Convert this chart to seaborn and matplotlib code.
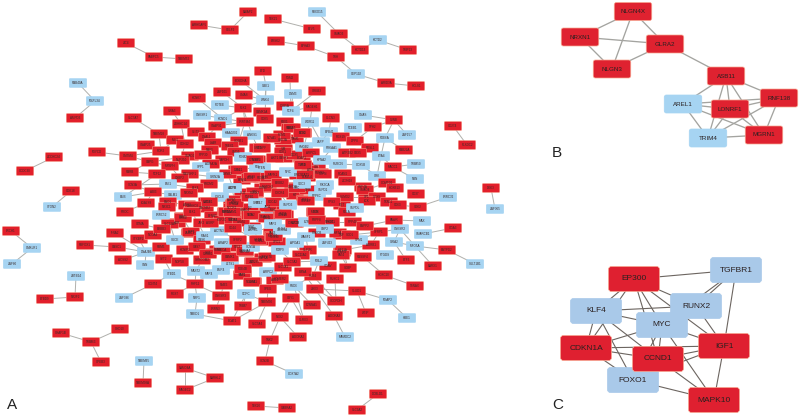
import matplotlib
matplotlib.use('Agg')
import matplotlib.pyplot as plt
import pandas as pd
import seaborn as sns
from matplotlib.collections import LineCollection
from matplotlib.patches import BoxStyle

# panel A: node names, position (pixels)
a_names = [
    # dense middle, drawn first so the others lie on top
    'ANK2', 'BAG3', 'CACNB2', 'DAB1', 'EFNA5', 'FBN1', 'GATA2', 'HDAC4',
    'IRS1', 'JAK2', 'KDR', 'LAMC1', 'MEF2C', 'NEDD4', 'OPA1', 'PAX6',
    'QKI', 'RBM3', 'SIX1', 'TLE3', 'USP9X', 'VCL', 'WNT5A', 'XPO1',
    'YAP1', 'ZEB1', 'ABL1', 'BCAR1', 'CBL', 'DVL2', 'EPAS1', 'FOXA2',
    'GLI3', 'HSPA5', 'ID2', 'JAG1', 'KIT', 'LIFR', 'MET', 'NCOR1',
    'PBX1', 'RARA', 'SOX2', 'TIAM1', 'UBE3A', 'VIM', 'WT1', 'ATM',
    'BIRC5', 'CASP3', 'DDX5', 'ELAVL4', 'FGFR2', 'GSK3B', 'HNF4A', 'IL1B',
    'KAT2B', 'LEF1', 'MTOR', 'NFKB1', 'PRKCB', 'RELA', 'SP1', 'TNF',
    'BTD', 'BCKDHA', 'GBE1', 'ZNF101', 'CMAS', 'WNK4', 'KCNK7', 'POTEE',
    'BAIAP2', 'ARHGAP5', 'CELF2', 'ZIC4', 'PABPC5', 'TMEM52', 'RAB40A', 'MRPL34',
    'AMPD3', 'ZCCHC24', 'CCDC30', 'CDK18', 'STON2', 'FBXO15', 'SMAD3', 'ETV5',
    'TBX21', 'BRSK2', 'EPHA3', 'TRH', 'CEP192', 'ARID3A', 'HCLS1', 'KCTD13',
    'KCTD2', 'TRIP13', 'CD274', 'PLXDC2', 'DKK3', 'ZNF365', 'LRRC32', 'SDK2',
    'LRCH1', 'CMKLR1', 'ZNF80', 'ZBTB24', 'NR2F2', 'BTBD9', 'CHAF1B', 'TRIM63',
    'CHD10', 'CPEB3', 'TMEM65', 'TMEM38A', 'SAMD4A', 'BARHL2', 'MAGEC2', 'TBX20',
    'GABRA2', 'DCBLD1', 'SLC9A2', 'COX7A2',
    'PLK2', 'CAMK2A', 'VWA3', 'CNKSR1', 'KCND1', 'LRRTM4', 'SLC7A7', 'ZDHHC14',
    'SNAP91', 'CDK5', 'SLIT3', 'KIAA0202', 'ANKS1', 'TMEM28', 'DNAL1', 'MCU',
    'CDH12', 'SNAP25', 'SCGB1', 'LYAR', 'TREX1', 'ROR2', 'NAV3', 'SIRT2',
    'MLYCD', 'CMTM4', 'SMAD2', 'RPP30', 'SMG5', 'NUP210', 'CAPG', 'GAPDH',
    'NLRP3', 'MDM2', 'MYBPH', 'ADRA2A', 'SPP1', 'REL', 'RARB', 'TCF12',
    'RASGRF1', 'OSBP2', 'LMNB2', 'FHL1', 'GRIN2A', 'SCN3A', 'BMI1', 'PRDM2',
    'ELK4', 'EGFR', 'BCL2', 'KLF6', 'ABI3', 'EMB', 'CALM1', 'NRXN2',
    'RUNX3', 'CXCL8', 'RHOB', 'LGALS9', 'ENO1', 'ITGB1', 'ZDHHC8', 'PPM1A',
    'RPL7', 'PROC', 'NR3C1', 'GZMA', 'LRRC52', 'SLC22A3', 'IFNA2', 'RBFOX1',
    'CASC1', 'STXBP2', 'ACSS2', 'DNAJB6', 'SNN', 'NCOA4', 'ERBB3', 'RBM5',
    'SGCE', 'SYT2', 'NOP58', 'CHIC2', 'LRP5', 'CASK', 'KCNIP2', 'GAS7',
    'SHROOM2', 'STBD1', 'GCNT4', 'ZNF396', 'RGS7', 'MAST2', 'PHF12', 'MAP4',
    'BMP4', 'NME5', 'CNKSR3', 'NRF1', 'TMED1', 'LRRN3', 'BCAT1', 'GOPC',
    'TRIM7', 'YBX3', 'LZTS1', 'NDUFA1', 'ZNF281', 'PDE4B', 'CSMD1', 'PRKCA',
    'CAMK1', 'CHRNA4', 'SCN5A', 'ARAP2', 'ACTN3', 'PIAS1', 'MED12', 'ACTC1',
    'SFRP2', 'AGRP', 'RAP1A', 'GRM4', 'ELK1', 'NFIA', 'SMAD7', 'TMEM30',
    'TNK2', 'SCN2B', 'SLC7A4', 'ZMPSTE', 'ARPC2', 'SPEG',
    'CENPF', 'PUM1', 'NOVA1', 'RAD51', 'ETS1', 'CDK1', 'CTNNB1', 'AKT1',
    'PTEN', 'STAT3', 'KRAS', 'MAPK1', 'ACTB', 'NOTCH1', 'ERBB2', 'SRC',
    'PIK3CA', 'UBC', 'CXCR4', 'MMP2', 'TGFB1', 'CDC42', 'SMPD3', 'GRB2',
    'EZH2', 'MYH9', 'CDH1', 'NCAM1', 'TUBB', 'DLG4', 'CD44', 'HIF1A',
    'MYOD1', 'PPARG',
    'TGM2', 'DNM3', 'CREB3', 'CYB5A', 'MAGEH1', 'TCF4', 'WDR11', 'CLCN3',
    'GNAS', 'JUNB', 'TCEB1', 'TPH2', 'ZNF157', 'PDE6A', 'EPB41',
    'RGS19', 'DPP8', 'FOSL1', 'RAB22A', 'LAPP', 'HMGB2', 'PRKAA1', 'ATP2B2',
    'CBX5', 'ARPC5', 'EYA4', 'KPNA2', 'RUBCN', 'COX5B', 'MACC1', 'TRIM50',
    'CRK', 'NBN', 'COMTD1', 'HOXB13', 'CD37', 'NFIC', 'TIMM9', 'MTPN',
    'RCAN1', 'ZC3H18', 'SMAD4', 'SMPD1', 'SDC3', 'PPP6C', 'SUMO2', 'TCIRBP',
    'RPS3', 'SOX9', 'LCK', 'TXNL1', 'SMPDL', 'CD63',
    'ITGA3', 'SMARCB1', 'MAX', 'MYO5A', 'ENTPD2', 'SULT1B1', 'BARX1', 'BTF3',
    'GRIA2', 'CNKSR2', 'PAWR', 'SFRP1', 'ADRB1', 'PTGDS', 'GFM1', 'RASSF4',
    'HOXC10', 'TSNAX', 'SOBP', 'ITGAV', 'RUSC1', 'GLUD1', 'MFAP2', 'HBE1',
    'WTIP', 'SCCPDH', 'ZHX3', 'FGD6', 'CTNNA1', 'CBY1', 'GLRX3', 'ADORA3',
    'MAMDC2', 'NKX2', 'ADORA2', 'RUB4', 'LMNA', 'HOMER2', 'MBL2', 'SLC7A1',
    'GLP2R', 'SLC11A2', 'SLC7A2', 'KIF21A', 'FAT4', 'ZNF423', 'WASF1', 'MMP9',
    'APOA1', 'PEG10', 'CD300A', 'CYP2C9', 'BSN', 'RHOT1', 'SMC3', 'EZR',
    'RPP40', 'KIF3A', 'SOD1', 'USP2', 'PRPF8', 'MAP2', 'ENPP2',
]
a_x = [
    187, 207, 205, 183, 213, 226, 233, 245,
    273, 202, 177, 190, 222, 233, 252, 272,
    260, 218, 208, 237, 245, 253, 263, 277,
    243, 253, 275, 302, 317, 237, 242, 262,
    243, 232, 250, 268, 295, 308, 342, 232,
    285, 290, 303, 295, 283, 284, 303, 310,
    298, 284, 295, 307, 320, 293, 363, 285,
    295, 305, 315, 330, 317, 347, 367, 342,
    263, 241, 266, 222, 244, 265, 197, 220,
    248, 199, 230, 126, 154, 184, 78, 95,
    75, 54, 25, 71, 52, 317, 339, 312,
    273, 276, 306, 336, 356, 386, 416, 360,
    378, 408, 453, 467, 491, 495, 448, 418,
    11, 32, 12, 76, 75, 45, 61, 91,
    120, 101, 144, 143, 185, 215, 185, 256,
    287, 378, 357, 294,
    243, 262, 172, 202, 223, 245, 133, 181,
    217, 265, 196, 231, 252, 159, 207, 175,
    185, 146, 239, 213, 230, 161, 210, 258,
    97, 128, 190, 203, 236, 181, 150, 224,
    257, 243, 170, 211, 201, 258, 130, 157,
    190, 180, 228, 239, 215, 133, 168, 209,
    195, 233, 250, 265, 153, 123, 173, 189,
    255, 220, 263, 146, 168, 209, 193, 234,
    259, 125, 167, 140, 161, 170, 115, 85,
    117, 139, 123, 146, 145, 153, 162, 161,
    175, 164, 180, 183, 191, 202, 185, 197,
    202, 172, 153, 124, 175, 196, 195, 209,
    221, 224, 221, 197, 195, 216, 232, 246,
    243, 242, 230, 252, 254, 243, 208, 222,
    230, 245, 251, 223, 219, 205, 260, 253,
    238, 210, 227, 241, 192, 250, 265, 267,
    270, 265, 257, 267, 268, 268,
    262, 282, 272, 292, 302, 283, 255, 275,
    262, 305, 252, 273, 232, 268, 280, 297,
    325, 255, 280, 235, 250, 273, 288, 257,
    252, 267, 282, 232, 253, 282, 233, 258,
    273, 342,
    290, 293, 317, 285, 312, 291, 310, 331,
    363, 394, 353, 373, 407, 385, 329,
    341, 355, 370, 404, 321, 304, 332, 347,
    358, 311, 381, 322, 338, 361, 393, 416,
    377, 415, 387, 395, 416, 288, 303, 323,
    343, 347, 365, 323, 302, 317, 345, 306,
    332, 377, 367, 389, 355, 398,
    453, 423, 422, 415, 447, 475, 433, 406,
    394, 400, 394, 379, 371, 385, 359, 363,
    384, 415, 348, 328, 335, 357, 388, 407,
    366, 336, 315, 294, 312, 291, 304, 334,
    345, 280, 298, 313, 303, 280, 319, 283,
    308, 301, 292, 343, 341, 327, 306, 280,
    295, 274, 282, 294, 316, 331, 283, 307,
    353, 338, 350, 325, 317, 273, 365,
]
a_y = [
    205, 202, 208, 217, 216, 212, 220, 210,
    210, 223, 223, 233, 220, 220, 227, 233,
    240, 250, 253, 247, 252, 262, 258, 242,
    275, 282, 280, 158, 167, 170, 180, 178,
    193, 200, 208, 207, 195, 190, 205, 208,
    122, 128, 133, 139, 140, 149, 165, 170,
    175, 158, 155, 177, 173, 187, 187, 215,
    223, 200, 212, 222, 233, 212, 197, 235,
    71, 81, 86, 92, 95, 100, 98, 105,
    12, 25, 30, 43, 57, 59, 83, 101,
    118, 157, 171, 191, 207, 12, 34, 29,
    19, 41, 46, 57, 74, 83, 86, 50,
    40, 50, 126, 145, 188, 209, 197, 207,
    231, 248, 264, 276, 297, 299, 333, 342,
    329, 362, 361, 383, 368, 378, 390, 406,
    408, 394, 410, 374,
    108, 112, 111, 115, 119, 122, 118, 124,
    126, 119, 132, 133, 135, 134, 137, 140,
    144, 145, 141, 143, 146, 151, 150, 148,
    152, 156, 156, 155, 152, 160, 162, 160,
    160, 157, 166, 164, 167, 167, 172, 174,
    174, 178, 174, 170, 177, 185, 184, 184,
    188, 188, 178, 177, 192, 197, 195, 193,
    193, 197, 188, 203, 202, 202, 206, 204,
    203, 212, 207, 224, 215, 224, 233, 245,
    247, 239, 260, 252, 265, 235, 229, 247,
    240, 259, 262, 218, 232, 240, 250, 247,
    260, 274, 284, 298, 294, 271, 284, 274,
    270, 285, 296, 298, 314, 309, 321, 294,
    306, 275, 264, 282, 262, 269, 254, 250,
    257, 251, 247, 243, 231, 236, 241, 230,
    240, 223, 212, 222, 212, 215, 217, 302,
    340, 361, 324, 257, 272, 289,
    148, 135, 138, 128, 133, 152, 160, 158,
    168, 175, 177, 175, 188, 187, 183, 188,
    185, 192, 193, 203, 197, 202, 205, 203,
    215, 218, 215, 212, 229, 229, 228, 240,
    236, 252,
    78, 94, 91, 106, 107, 111, 122, 118,
    115, 120, 128, 127, 135, 138, 132,
    137, 141, 148, 150, 142, 147, 148, 153,
    153, 153, 156, 160, 164, 165, 167, 164,
    176, 179, 183, 188, 194, 172, 165, 174,
    174, 181, 190, 190, 184, 196, 197, 201,
    202, 197, 201, 202, 208, 205,
    228, 234, 221, 246, 250, 264, 266, 260,
    242, 229, 220, 232, 245, 255, 240, 257,
    275, 286, 268, 266, 279, 291, 300, 318,
    313, 301, 289, 286, 305, 298, 320, 316,
    337, 317, 337, 276, 272, 279, 261, 267,
    250, 255, 262, 250, 255, 243, 237, 250,
    243, 237, 230, 223, 212, 222, 214, 222,
    222, 233, 235, 229, 220, 224, 226,
]
# the nodes of panel A that are blue, all the others are red
a_blue = [
    'RAB40A', 'MRPL34', 'STON2', 'FBXO15', 'CEP192', 'KCTD2', 'ZNF365', 'LRRC32',
    'CMKLR1', 'ZNF80', 'ZBTB24', 'TMEM65', 'COX7A2', 'GBE1', 'WNK4', 'POTEE',
    'CNKSR1', 'KCND1', 'KIAA0202', 'ANKS1', 'MDM2', 'SPP1', 'REL', 'GRIN2A',
    'BMI1', 'EGFR', 'EMB', 'CALM1', 'CXCL8', 'RPL7', 'LRRC52', 'DNAJB6',
    'SNN', 'SGCE', 'STBD1', 'ZNF396', 'MAST2', 'MAP4', 'BMP4', 'NRF1',
    'TMED1', 'GOPC', 'LZTS1', 'SCN5A', 'ARAP2', 'ACTN3', 'PIAS1', 'ACTC1',
    'SMAD7', 'ARPC2', 'PTEN', 'ACTB', 'PIK3CA', 'SMPD3', 'GRB2', 'TUBB',
    'DLG4', 'DNM3', 'TCF4', 'WDR11', 'GNAS', 'TCEB1', 'ZNF157', 'PDE6A',
    'EPB41', 'LAPP', 'HMGB2', 'PRKAA1', 'EYA4', 'KPNA2', 'RUBCN', 'COX5B',
    'TRIM50', 'CRK', 'NBN', 'NFIC', 'SMPD1', 'SDC3', 'PPP6C', 'SMPDL',
    'SMARCB1', 'MAX', 'MYO5A', 'SULT1B1', 'GRIA2', 'CNKSR2', 'PTGDS', 'GFM1',
    'MFAP2', 'HBE1', 'FGD6', 'MAMDC2', 'MBL2', 'ZNF423', 'WASF1', 'MMP9',
    'APOA1', 'CD300A', 'EZR', 'USP2', 'MAP2',
]
a_edges = [
    ('BAIAP2', 'CELF2'), ('ARHGAP5', 'CELF2'), ('ZIC4', 'PABPC5'), ('PABPC5', 'TMEM52'),
    ('RAB40A', 'MRPL34'), ('MRPL34', 'AMPD3'), ('ZCCHC24', 'CCDC30'), ('CDK18', 'STON2'),
    ('FBXO15', 'SMAD3'), ('TBX21', 'ETV5'), ('SMAD3', 'KCTD13'), ('KCTD2', 'TRIP13'),
    ('KCTD2', 'KCTD13'), ('BRSK2', 'EPHA3'), ('EPHA3', 'TRH'), ('TRH', 'CEP192'),
    ('CEP192', 'ARID3A'), ('ARID3A', 'HCLS1'), ('CD274', 'PLXDC2'), ('DKK3', 'ZNF365'),
    ('LRCH1', 'CMKLR1'), ('CMKLR1', 'ZNF80'), ('ZBTB24', 'NR2F2'), ('NR2F2', 'BTBD9'),
    ('CHAF1B', 'TRIM63'), ('TRIM63', 'CHD10'), ('TRIM63', 'CPEB3'), ('TMEM65', 'TMEM38A'),
    ('SAMD4A', 'BARHL2'), ('BARHL2', 'MAGEC2'), ('SAMD4A', 'MAGEC2'), ('TBX20', 'GABRA2'),
    ('DCBLD1', 'SLC9A2'), ('LRRC32', 'SDK2'), ('SDK2', 'CD63'),
    ('BTD', 'GBE1'), ('BCKDHA', 'WNK4'), ('GBE1', 'WNK4'), ('ZNF101', 'PLK2'),
    ('CMAS', 'WNK4'), ('WNK4', 'PLK2'), ('KCNK7', 'KCND1'), ('POTEE', 'PLK2'),
    ('KCND1', 'PLK2'), ('PLK2', 'LRRTM4'), ('PLK2', 'ANKS1'), ('VWA3', 'ZDHHC14'),
    ('ZDHHC14', 'SLIT3'), ('SLC7A7', 'TMEM28'), ('TMEM28', 'MCU'), ('ZDHHC14', 'CDH12'),
    ('SNAP91', 'LRRTM4'), ('SNAP91', 'DNAL1'), ('SLIT3', 'DNAL1'), ('SLIT3', 'TREX1'),
    ('TMEM28', 'ROR2'), ('MLYCD', 'CMTM4'), ('CMTM4', 'CAPG'), ('CMTM4', 'ROR2'),
    ('CAPG', 'SMAD2'), ('RARB', 'TCF12'), ('SCN3A', 'BMI1'), ('TCF12', 'NUP210'),
    ('ABI3', 'CALM1'), ('EMB', 'ABI3'), ('EMB', 'TCF12'), ('LGALS9', 'ABI3'),
    ('PROC', 'LGALS9'), ('GZMA', 'ERBB3'), ('LRRC52', 'ERBB3'), ('SNAP25', 'ROR2'),
    ('MCU', 'ROR2'), ('CDH12', 'NUP210'), ('LYAR', 'NAV3'), ('CAPG', 'MYBPH'),
    ('RARB', 'CAPG'), ('MYBPH', 'OSBP2'), ('BMI1', 'ELK4'), ('SCN3A', 'ABI3'),
    ('CNKSR1', 'LRRTM4'), ('GBE1', 'CDK5'), ('CAMK2A', 'CDK5'), ('LRRTM4', 'SCGB1'),
    ('KIAA0202', 'SCGB1'), ('ANKS1', 'SIRT2'), ('SIRT2', 'CENPF'), ('MDM2', 'NLRP3'),
    ('SMG5', 'GAPDH'), ('LMNB2', 'EGFR'), ('EGFR', 'KRAS'), ('REL', 'FHL1'),
    ('KLF6', 'BCL2'), ('IFNA2', 'DNAJB6'), ('RBFOX1', 'CASC1'), ('CASC1', 'DNAJB6'),
    ('STXBP2', 'DNAJB6'), ('ACSS2', 'DNAJB6'), ('SNN', 'DNAJB6'), ('DNAJB6', 'RBM5'),
    ('DNAJB6', 'SGCE'), ('STBD1', 'SYT2'), ('STBD1', 'GCNT4'), ('STBD1', 'PHF12'),
    ('GCNT4', 'ZNF396'), ('RGS7', 'PHF12'), ('MAST2', 'PHF12'), ('MAP4', 'PHF12'),
    ('PHF12', 'NRF1'), ('PHF12', 'CNKSR3'), ('NRF1', 'TMED1'), ('TMED1', 'BCAT1'),
    ('BCAT1', 'GOPC'), ('LRRN3', 'NME5'), ('NME5', 'YBX3'), ('GOPC', 'TRIM7'),
    ('GOPC', 'TMEM30'), ('BCAT1', 'TMEM30'), ('SLC7A4', 'TMEM30'), ('TNK2', 'SCN2B'),
    ('TNK2', 'NKX2'), ('SCN2B', 'COX7A2'), ('NKX2', 'ADORA2'), ('NKX2', 'CBY1'),
    ('GLRX3', 'CBY1'), ('GLRX3', 'FGD6'), ('MAP4', 'BMP4'), ('SHROOM2', 'MAST2'),
    ('NOP58', 'MAST2'), ('LZTS1', 'YBX3'), ('YBX3', 'NDUFA1'), ('NDUFA1', 'SPEG'),
    ('SPEG', 'TMEM30'), ('ARPC2', 'SPEG'), ('PDE4B', 'ZNF281'), ('CSMD1', 'SHROOM2'),
    ('HOXC10', 'TSNAX'), ('HOXC10', 'RASSF4'), ('GLUD1', 'ZHX3'), ('GLUD1', 'MFAP2'),
    ('GLUD1', 'WTIP'), ('MFAP2', 'HBE1'), ('ZHX3', 'SCCPDH'), ('RUSC1', 'SCCPDH'),
    ('ZHX3', 'LMNA'), ('ZHX3', 'ADORA3'), ('ADORA3', 'MAMDC2'), ('FGD6', 'CTNNA1'),
    ('FGD6', 'HOMER2'), ('FGD6', 'RUB4'), ('SCCPDH', 'RUB4'), ('ITGA3', 'SMARCB1'),
    ('MYO5A', 'ENTPD2'), ('ENTPD2', 'SULT1B1'), ('MYO5A', 'BARX1'), ('MYO5A', 'GRIA2'),
    ('MYO5A', 'CNKSR2'), ('GRIA2', 'BTF3'), ('GRIA2', 'CNKSR2'), ('MAX', 'PAWR'),
    ('CNKSR2', 'SFRP1'), ('SFRP1', 'GFM1'), ('ADRB1', 'SFRP1'), ('ADRB1', 'KIF21A'),
    ('GFM1', 'KIF3A'), ('SOBP', 'KIF21A'), ('SOBP', 'FAT4'), ('ITGAV', 'MBL2'),
    ('JUNB', 'GNAS'), ('JUNB', 'PDE6A'), ('JUNB', 'ZNF157'), ('JUNB', 'TPH2'),
    ('TPH2', 'DPP8'), ('PDE6A', 'FOSL1'), ('PDE6A', 'RAB22A'), ('PDE6A', 'EYA4'),
    ('MACC1', 'TRIM50'), ('MACC1', 'CRK'), ('MACC1', 'NBN'), ('CRK', 'COMTD1'),
    ('EYA4', 'MACC1'), ('EYA4', 'FOSL1'), ('EYA4', 'CRK'), ('TCEB1', 'RGS19'),
    ('TGM2', 'TCF4'), ('DNM3', 'TCF4'), ('CREB3', 'TCF4'), ('CYB5A', 'TCF4'),
    ('MAGEH1', 'WDR11'), ('MAGEH1', 'TCF4'), ('WDR11', 'HMGB2'), ('WDR11', 'LAPP'),
    ('CLCN3', 'EPB41'), ('EPB41', 'LAPP'), ('LAPP', 'PRKAA1'), ('PRKAA1', 'KPNA2'),
    ('ATP2B2', 'CBX5'), ('COX5B', 'RUBCN'), ('COX5B', 'CRK'), ('RCAN1', 'ZC3H18'),
    ('ZC3H18', 'SMAD4'), ('SMAD4', 'COMTD1'), ('SUMO2', 'SOX9'), ('LCK', 'SOX9'),
    ('TXNL1', 'SOX9'), ('SMPDL', 'LCK'), ('RPS3', 'SMPDL'), ('PPP6C', 'RPS3'),
    ('SMPD1', 'SDC3'), ('SMPD1', 'PPP6C'), ('KPNA2', 'MTPN'), ('NFIC', 'TIMM9'),
    ('RHOT1', 'RPP40'), ('RPP40', 'ENPP2'), ('ENPP2', 'PAWR'), ('USP2', 'PRPF8'),
    ('KIF3A', 'SOD1'), ('SOD1', 'SFRP1'), ('EZR', 'USP2'), ('EZR', 'BSN'),
    ('SMC3', 'CYP2C9'), ('CYP2C9', 'EZR'), ('WASF1', 'GLP2R'), ('APOA1', 'SLC11A2'),
    ('APOA1', 'WASF1'), ('MMP9', 'SLC7A2'), ('PEG10', 'CD300A'), ('MAP2', 'PEG10'),
    ('MAP2', 'MYOD1'), ('SLC7A1', 'SLC7A2'), ('HOMER2', 'SLC7A1'), ('LMNA', 'RUB4'),
    ('MBL2', 'RUB4'), ('MBL2', 'SLC7A2'), ('SMPD3', 'CXCR4'), ('CDC42', 'GRB2'),
    ('TGFB1', 'UBC'), ('UBC', 'NOTCH1'), ('NOTCH1', 'ERBB2'), ('ERBB2', 'SRC'),
    ('SRC', 'PIK3CA'), ('PIK3CA', 'SMPD1'), ('ACTB', 'KRAS'), ('ACTB', 'MMP2'),
    ('KRAS', 'MAPK1'), ('MAPK1', 'PTEN'), ('PTEN', 'CTNNB1'), ('CTNNB1', 'AKT1'),
    ('AKT1', 'CDK1'), ('CDK1', 'PUM1'), ('PUM1', 'RAD51'), ('RAD51', 'ETS1'),
    ('ETS1', 'HMGB2'), ('CENPF', 'NOVA1'), ('NOVA1', 'PUM1'), ('STAT3', 'NFIC'),
    ('STAT3', 'TIMM9'), ('EZH2', 'MYH9'), ('MYH9', 'CDH1'), ('CDH1', 'SMC3'),
    ('NCAM1', 'TUBB'), ('TUBB', 'DLG4'), ('DLG4', 'CD300A'), ('CD44', 'HIF1A'),
    ('HIF1A', 'MYOD1'), ('MYOD1', 'MMP9'), ('PPARG', 'ZNF423'), ('RPL7', 'SMAD7'),
    ('AGRP', 'RAP1A'), ('RAP1A', 'GRM4'), ('GRM4', 'NFIA'), ('ELK1', 'PIAS1'),
    ('PIAS1', 'ACTN3'), ('ACTN3', 'SFRP2'), ('SFRP2', 'ACTC1'), ('ACTC1', 'MED12'),
    ('ARAP2', 'PRKCA'), ('PRKCA', 'CAMK1'), ('CHRNA4', 'SCN5A'), ('GAS7', 'CASK'),
    ('KCNIP2', 'GAS7'), ('LRP5', 'CHIC2'), ('CHIC2', 'NCOA4'), ('SLC22A3', 'SGCE'),
    ('NR3C1', 'ENO1'), ('ENO1', 'ZDHHC8'), ('ZDHHC8', 'ITGB1'), ('ITGB1', 'CXCL8'),
    ('CXCL8', 'PPM1A'), ('PPM1A', 'RUNX3'), ('RUNX3', 'RHOB'), ('CALM1', 'NRXN2'),
    ('NRXN2', 'PRDM2'), ('RASGRF1', 'GRIN2A'), ('ADRA2A', 'SPP1'), ('RPP30', 'SMAD2'),
]

# panel B
b_names = ['NLGN4X', 'NRXN1', 'GLRA2', 'NLGN3', 'ASB11', 'RNF138', 'AREL1', 'LONRF1', 'MGRN1', 'TRIM4']
b_x = [633, 580, 665, 612, 726, 779, 683, 730, 764, 708]
b_y = [11.5, 37, 44, 69, 76, 98, 104, 109, 135, 138]
b_blue = ['AREL1', 'TRIM4']
b_edges = [
    ('NLGN4X', 'NRXN1'), ('NLGN4X', 'GLRA2'), ('NLGN4X', 'NLGN3'), ('NRXN1', 'GLRA2'),
    ('NRXN1', 'NLGN3'), ('NLGN3', 'GLRA2'), ('GLRA2', 'ASB11'), ('ASB11', 'AREL1'),
    ('ASB11', 'LONRF1'), ('ASB11', 'RNF138'), ('ASB11', 'MGRN1'), ('ASB11', 'TRIM4'),
    ('AREL1', 'LONRF1'), ('AREL1', 'RNF138'), ('AREL1', 'MGRN1'), ('AREL1', 'TRIM4'),
    ('LONRF1', 'RNF138'), ('LONRF1', 'MGRN1'), ('LONRF1', 'TRIM4'), ('RNF138', 'MGRN1'),
    ('RNF138', 'TRIM4'), ('MGRN1', 'TRIM4'),
]

# panel C
c_names = ['EP300', 'TGFBR1', 'RUNX2', 'KLF4', 'MYC', 'CDKN1A', 'IGF1', 'FOXO1', 'CCND1', 'MAPK10']
c_x = [634, 736, 696, 596, 662, 586, 724, 633, 658, 714]
c_y = [279, 270, 306, 311, 325, 348, 346, 380, 359, 400]
c_blue = ['TGFBR1', 'RUNX2', 'KLF4', 'MYC', 'FOXO1']
c_edges = [
    ('EP300', 'TGFBR1'), ('EP300', 'RUNX2'), ('EP300', 'KLF4'), ('EP300', 'MYC'),
    ('EP300', 'CDKN1A'), ('EP300', 'CCND1'), ('EP300', 'IGF1'), ('TGFBR1', 'RUNX2'),
    ('TGFBR1', 'MYC'), ('TGFBR1', 'IGF1'), ('RUNX2', 'KLF4'), ('RUNX2', 'MYC'),
    ('RUNX2', 'IGF1'), ('KLF4', 'MYC'), ('KLF4', 'CDKN1A'), ('KLF4', 'CCND1'),
    ('KLF4', 'FOXO1'), ('MYC', 'CDKN1A'), ('MYC', 'IGF1'), ('MYC', 'CCND1'),
    ('MYC', 'FOXO1'), ('MYC', 'MAPK10'), ('CDKN1A', 'CCND1'), ('CDKN1A', 'IGF1'),
    ('CDKN1A', 'FOXO1'), ('IGF1', 'CCND1'), ('IGF1', 'MAPK10'), ('CCND1', 'FOXO1'),
    ('CCND1', 'MAPK10'), ('FOXO1', 'MAPK10'), ('FOXO1', 'IGF1'),
]

panel_letters = ['A', 'B', 'C']
letter_x = [7, 552, 552]
letter_y = [405, 153, 405]


def box_marker(w, h, r):
    return BoxStyle.Round(pad=0, rounding_size=r)(-w / 2, -h / 2, w, h, 1)


def draw_panel(ax, names, xs, ys, blue, edges, size, palette, edge_c, edge_w, font, text_c, halo, ew):
    df = pd.DataFrame({'name': names, 'x': xs, 'y': ys})
    df['kind'] = ['b' if n in blue else 'r' for n in names]
    pos = df.set_index('name')
    segs = [[(pos.x[a], pos.y[a]), (pos.x[b], pos.y[b])] for a, b in edges]
    ax.add_collection(LineCollection(segs, colors=edge_c, linewidths=edge_w, zorder=1))
    w, h = size
    width_pt = w * 72 / 100
    rims = [palette['b'] if k == 'b' else halo for k in df['kind']]
    sns.scatterplot(data=df, x='x', y='y', hue='kind', palette=palette, ax=ax, legend=False,
                    marker=box_marker(w, h, h * 0.12), s=width_pt ** 2,
                    edgecolor=rims, linewidth=ew, zorder=2)
    for n, x, y in zip(names, xs, ys):
        ax.text(x, y, n, fontsize=font, color=text_c, ha='center', va='center', zorder=3)


sns.set_theme(style='white')
plt.rcParams['font.family'] = ['Liberation Sans', 'DejaVu Sans']

fig = plt.figure(figsize=(8, 4.17), dpi=100)
ax = fig.add_axes([0, 0, 1, 1])

draw_panel(ax, a_names, a_x, a_y, a_blue, a_edges, (17.5, 9),
           {'r': '#E21F2B', 'b': '#A6D4F2'}, '#B0B0AC', 0.7, 2.2, '#3a2a2a', '#F8A58F', 0.35)
draw_panel(ax, b_names, b_x, b_y, b_blue, b_edges, (37.5, 18),
           {'r': '#DF2230', 'b': '#A6D4F2'}, '#A4A4A0', 0.95, 4.5, '#2a2020', '#F7A58F', 0.5)
draw_panel(ax, c_names, c_x, c_y, c_blue, c_edges, (51, 25),
           {'r': '#DF2030', 'b': '#A9C9E9'}, '#6C6560', 0.8, 6.0, '#2a2020', '#F7A58F', 0.5)

for t, x, y in zip(panel_letters, letter_x, letter_y):
    ax.text(x, y, t, fontsize=11, color='#222222', ha='left', va='center', zorder=4)

ax.set_xlim(0, 800)
ax.set_ylim(417, 0)
ax.axis('off')
fig.savefig('out.png', dpi=100, facecolor='white')
